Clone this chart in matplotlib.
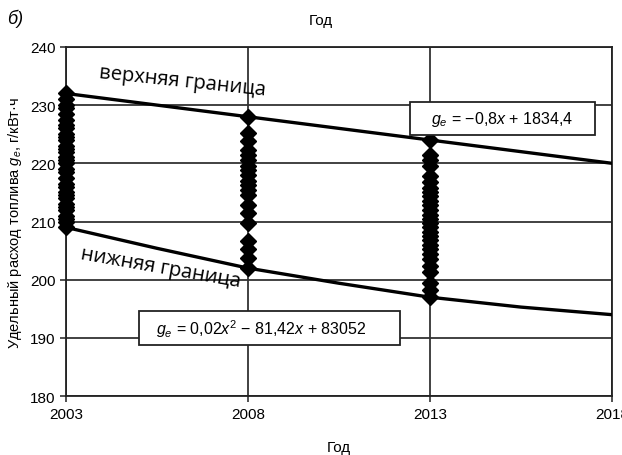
import numpy as np
import matplotlib.pyplot as plt
from matplotlib.patches import Rectangle

plt.rcParams['font.family'] = ['Liberation Sans', 'DejaVu Sans']
plt.rcParams['mathtext.fontset'] = 'custom'
plt.rcParams['mathtext.it'] = 'Liberation Sans:italic'
plt.rcParams['mathtext.rm'] = 'Liberation Sans'

# измерения по годам
y2003 = [232, 231, 230, 229.5, 228.5, 227.5, 226.5, 226, 225, 224.5, 224, 223, 222.5,
         222, 221, 220.5, 220, 219, 218.5, 217.5, 216.5, 216, 215, 214.5, 214, 213,
         212.5, 212, 211, 210.5, 210, 209]
y2008 = [228, 225.2, 223.8, 222.3, 221.4, 220.5, 219.5, 218.8, 218, 217, 216.3, 215.5,
         214.6, 212.9, 211.5, 209.8, 206.7, 205.2, 203.8, 202]
y2013 = [224, 221.5, 220.5, 219.5, 217.8, 216.8, 215.8, 215, 214.3, 213.5, 212.8, 212,
         211.2, 210.5, 209.8, 209, 208.2, 207.5, 206.8, 206, 205.2, 204.5, 203.6, 202.3,
         201.3, 199.5, 198.3, 197]

# границы
upper_x = [2003, 2018]
upper_y = [232, 220]
lower_x = [2003, 2005.5, 2008, 2010.5, 2013, 2015.5, 2018]
lower_y = [209, 205.4, 202, 199.4, 197, 195.3, 194]

fig = plt.figure(figsize=(6.22, 4.56), dpi=100)
ax = fig.add_axes([0.106, 0.129, 0.878, 0.766])

ax.plot(upper_x, upper_y, color='black', lw=2.4, zorder=3)
ax.plot(lower_x, lower_y, color='black', lw=2.4, zorder=3)

for yr, vals in [(2003, y2003), (2008, y2008), (2013, y2013)]:
    ax.plot([yr] * len(vals), vals, 'D', color='black', ms=8.5, zorder=4, clip_on=False)

ax.set_xlim(2003, 2018)
ax.set_ylim(180, 240)
ax.set_xticks([2003, 2008, 2013, 2018])
ax.set_yticks(range(180, 241, 10))
ax.grid(True, color='#333333', lw=1.3)
ax.set_axisbelow(True)
for s in ax.spines.values():
    s.set_color('#222222')
    s.set_linewidth(1.3)
ax.tick_params(labelsize=11, length=4, width=1.2, color='#333333')

ax.set_xlabel('Год', fontsize=11, labelpad=14)
ax.set_ylabel('Удельный расход топлива $g_e$, г/кВт·ч', fontsize=10.5, labelpad=4)
fig.text(0.515, 0.955, 'Год', ha='center', va='center', fontsize=11)
fig.text(0.012, 0.958, 'б)', ha='left', va='center', fontsize=13, style='italic')

ax.text(2006.2, 234.2, 'верхняя граница', rotation=-6, ha='center', va='center',
        fontsize=14.5, family=['Open Sans', 'DejaVu Sans'])
ax.text(2005.6, 202.1, 'нижняя граница', rotation=-10, ha='center', va='center',
        fontsize=14.5, family=['Open Sans', 'DejaVu Sans'])

ax.add_patch(Rectangle((2012.45, 224.8), 5.08, 5.8, fc='white', ec='#222222',
                       lw=1.3, zorder=5))
ax.text(2014.98, 227.7, '$g_e$ = −0,8$x$ + 1834,4', ha='center', va='center',
        fontsize=11.5, zorder=6)
ax.add_patch(Rectangle((2005.0, 188.8), 7.18, 5.8, fc='white', ec='#222222',
                       lw=1.3, zorder=5))
ax.text(2008.36, 191.7, '$g_e$ = 0,02$x^2$ − 81,42$x$ + 83052', ha='center', va='center',
        fontsize=11.5, zorder=6)

fig.savefig('out.png', dpi=100)
